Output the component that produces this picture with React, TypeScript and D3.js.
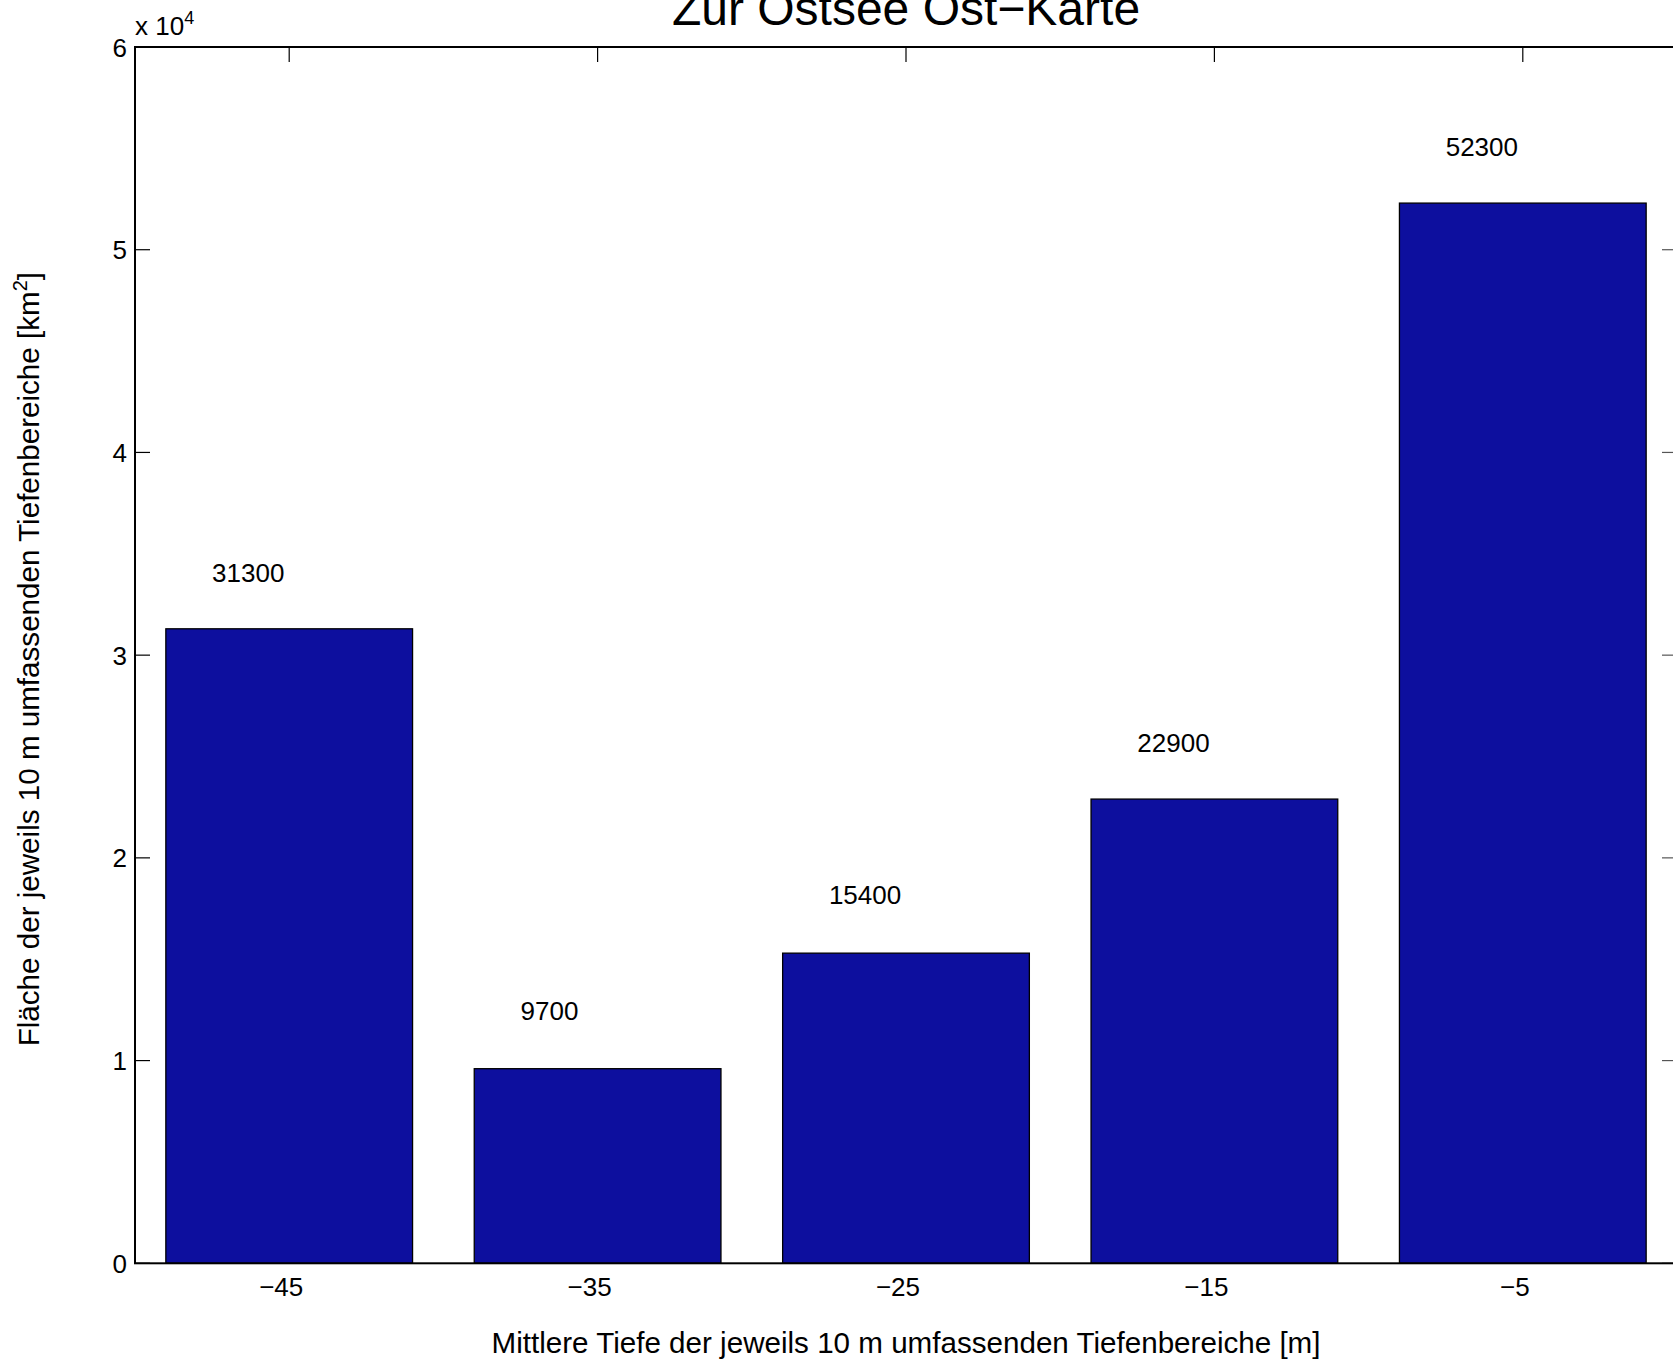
import React, { useEffect, useRef } from "react";
import * as d3 from "d3";

const categories: number[] = [-45, -35, -25, -15, -5];
const areaValues: number[] = [31300, 9600, 15300, 22900, 52300];
const areaLabels: string[] = ["31300", "9700", "15400", "22900", "52300"];
const labelValues: number[] = [31300, 9700, 15400, 22900, 52300];
const yTicks: number[] = [0, 1, 2, 3, 4, 5, 6];
const titleText = "Zur Ostsee Ost\u2212Karte";
const xLabelText = "Mittlere Tiefe der jeweils 10 m umfassenden Tiefenbereiche [m]";
const yLabelText = "Fläche der jeweils 10 m umfassenden Tiefenbereiche [km";

const W = 1673;
const H = 1364;
const FONT = "'Liberation Sans', Arial, Helvetica, sans-serif";

export default function App() {
  const ref = useRef<SVGSVGElement>(null);

  useEffect(() => {
    const svg = d3.select(ref.current);
    svg.selectAll("*").remove();

    const left = 135, right = 1677, top = 47, bottom = 1263.3;
    const x = d3.scaleLinear().domain([-50, 0]).range([left, right]);
    const y = d3.scaleLinear().domain([0, 60000]).range([bottom, top]);
    const barW = 8;

    const g = svg.append("g");

    // ticks: top (x), left & right (y), inward
    const tl = 15;
    categories.forEach((c) => {
      g.append("line").attr("x1", x(c)).attr("x2", x(c)).attr("y1", top).attr("y2", top + tl)
        .attr("stroke", "#000").attr("stroke-width", 1.2);
    });
    yTicks.forEach((t) => {
      const yy = y(t * 10000);
      g.append("line").attr("x1", left).attr("x2", left + tl).attr("y1", yy).attr("y2", yy)
        .attr("stroke", "#000").attr("stroke-width", 1.2);
      g.append("line").attr("x1", right).attr("x2", right - tl).attr("y1", yy).attr("y2", yy)
        .attr("stroke", "#555").attr("stroke-width", 1.2);
    });

    // bars
    g.selectAll("rect.bar")
      .data(categories)
      .enter()
      .append("rect")
      .attr("class", "bar")
      .attr("x", (d) => x(d - barW / 2))
      .attr("width", (d) => x(d + barW / 2) - x(d - barW / 2))
      .attr("y", (_d, i) => y(areaValues[i]))
      .attr("height", (_d, i) => bottom - y(areaValues[i]))
      .attr("fill", "#0d0f9e")
      .attr("stroke", "#000")
      .attr("stroke-width", 1.3);

    // value labels
    g.selectAll("text.val")
      .data(categories)
      .enter()
      .append("text")
      .attr("class", "val")
      .attr("x", (d) => x(d - 2.5))
      .attr("y", (_d, i) => y(labelValues[i] + 2300))
      .attr("font-family", FONT)
      .attr("font-size", 26)
      .attr("fill", "#000")
      .text((_d, i) => areaLabels[i]);

    // axes box
    g.append("rect")
      .attr("x", left).attr("y", top)
      .attr("width", right - left).attr("height", bottom - top)
      .attr("fill", "none").attr("stroke", "#000").attr("stroke-width", 2);

    // y tick labels
    g.selectAll("text.yt")
      .data(yTicks)
      .enter()
      .append("text")
      .attr("class", "yt")
      .attr("x", 127)
      .attr("y", (d) => y(d * 10000) + 9.5)
      .attr("text-anchor", "end")
      .attr("font-family", FONT)
      .attr("font-size", 26)
      .text((d) => String(d));

    // x tick labels
    g.selectAll("text.xt")
      .data(categories)
      .enter()
      .append("text")
      .attr("class", "xt")
      .attr("x", (d) => x(d) - 8)
      .attr("y", 1296)
      .attr("text-anchor", "middle")
      .attr("font-family", FONT)
      .attr("font-size", 26)
      .text((d) => (d < 0 ? "\u2212" + Math.abs(d) : String(d)));

    // exponent label
    const ex = g.append("text")
      .attr("x", 135)
      .attr("y", 35)
      .attr("font-family", FONT)
      .attr("font-size", 26);
    ex.append("tspan").text("x 10");
    ex.append("tspan").attr("font-size", 18).attr("dy", -11).text("4");

    // title
    g.append("text")
      .attr("x", (left + right) / 2)
      .attr("y", 25)
      .attr("text-anchor", "middle")
      .attr("font-family", FONT)
      .attr("font-size", 48)
      .text(titleText);

    // x label
    g.append("text")
      .attr("x", (left + right) / 2)
      .attr("y", 1353)
      .attr("text-anchor", "middle")
      .attr("font-family", FONT)
      .attr("font-size", 29.6)
      .text(xLabelText);

    // y label
    const yl = g.append("text")
      .attr("transform", `translate(39, ${(top + bottom) / 2 + 4}) rotate(-90)`)
      .attr("text-anchor", "middle")
      .attr("font-family", FONT)
      .attr("font-size", 29.6);
    yl.append("tspan").text(yLabelText);
    yl.append("tspan").attr("font-size", 20).attr("dy", -12).text("2");
    yl.append("tspan").attr("dy", 12).text("]");
  }, []);

  return (
    <svg
      ref={ref}
      width={W}
      height={H}
      style={{ position: "absolute", left: 0, top: 0, background: "#fff" }}
    />
  );
}
